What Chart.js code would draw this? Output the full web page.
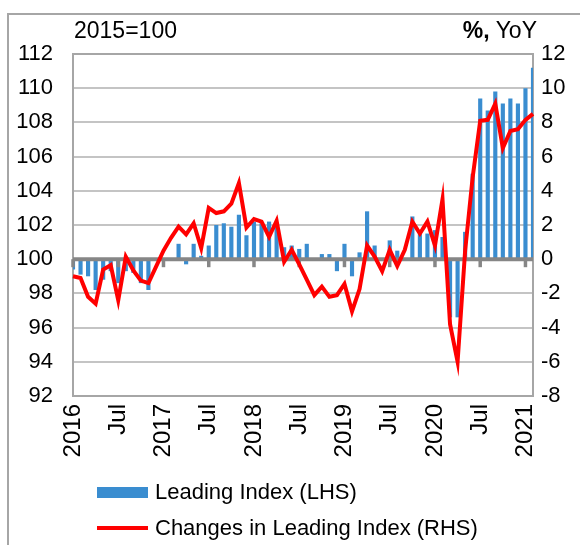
<!DOCTYPE html>
<html>
<head>
<meta charset="utf-8">
<script src="https://cdn.jsdelivr.net/npm/chart.js@4.4.1/dist/chart.umd.min.js"></script>
<style>
  html, body { margin: 0; padding: 0; background: #fff; }
  body { width: 580px; height: 545px; position: relative; overflow: hidden;
         font-family: "Liberation Sans", Arial, sans-serif; color: #000; }
  #frame { position: absolute; left: 7px; top: 13px; width: 620px; height: 600px;
           border: 2px solid #a6a6a6; box-sizing: border-box; }
  #chart { position: absolute; left: 0; top: 0; }
  .note { position: absolute; top: 17px; font-size: 23px; line-height: 26px; white-space: nowrap; }
  .legend { position: absolute; left: 97px; font-size: 22px; line-height: 24px; white-space: nowrap; }
  .legend .key { position: absolute; left: 0; width: 51px; }
  .legend span.txt { position: absolute; left: 58px; top: 0; }
</style>
</head>
<body>
<div id="frame"></div>
<canvas id="chart" width="580" height="545"></canvas>
<div class="note" style="left:74px;">2015=100</div>
<div class="note" style="right:43px;"><b>%,</b> YoY</div>
<div class="legend" style="top:480px;">
  <div class="key" style="top:7px;height:11px;background:#3a8dd0;"></div>
  <span class="txt">Leading Index (LHS)</span>
</div>
<div class="legend" style="top:516px;">
  <div class="key" style="top:10px;height:4px;background:#ff0000;"></div>
  <span class="txt">Changes in Leading Index (RHS)</span>
</div>
<script>
// Monthly categories, Jan 2016 to Feb 2021
const months = [];
for (let y = 2016; y <= 2021; y++) {
    for (let m = 1; m <= 12; m++) {
        if (y === 2021 && m > 2) break;
        months.push(y + "-" + String(m).padStart(2, "0"));
    }
}

// Leading Index, 2015=100 (left axis)
const leadingIndex = [
    99.4, 99.1, 99.0, 98.2, 98.8, 99.3, 98.6, 99.3, 99.2, 98.6, 98.2, 100.0,
    100.0, 100.0, 100.9, 99.7, 100.9, 100.2, 100.8, 102.0, 102.1, 101.9, 102.6, 101.4,
    102.2, 102.1, 102.2, 101.9, 100.7, 100.8, 100.6, 100.9, 100.0, 100.3, 100.3, 99.3,
    100.9, 99.0, 100.4, 102.8, 100.8, 100.0, 101.1, 100.5, 100.0, 102.5, 101.5, 101.5,
    101.7, 101.3, 96.6, 96.6, 101.6, 105.0, 109.4, 108.7, 109.8, 109.1, 109.4, 109.1,
    110.0, 111.2,
];

// Year-on-year change of the index, % (right axis)
const yoyChange = [
    -1.0, -1.1, -2.2, -2.6, -0.6, -0.35, -2.4, 0.15, -0.65, -1.25, -1.4, -0.45,
    0.5, 1.25, 1.9, 1.45, 2.1, 0.65, 3.0, 2.7, 2.8, 3.25, 4.45, 1.85,
    2.35, 2.2, 1.3, 2.25, -0.15, 0.55, -0.3, -1.2, -2.1, -1.6, -2.2, -2.1,
    -1.45, -3.05, -1.75, 0.8, 0.15, -0.7, 0.55, -0.4, 0.55, 2.2, 1.5, 2.2,
    0.8, 3.5, -3.8, -6.0, 0.5, 4.8, 8.1, 8.15, 9.1, 6.5, 7.5, 7.6,
    8.15, 8.5,
];

// Axis ranges
const leftTicks = { min: 92, max: 112, step: 2 };
const rightTicks = { min: -8, max: 12, step: 2 };
const midYearLabel = "Jul";

const fontFamily = "'Liberation Sans', Arial, sans-serif";
const valueFont = { family: fontFamily, size: 22 };
const dateFont = { family: fontFamily, size: 24 };

// thick axis line at 100 with half-year tick marks, drawn over the bars
const baseLine = {
    id: "baseLine",
    afterDatasetDraw(chart, args) {
        if (args.meta.type !== "bar") return;
        const { ctx, chartArea, scales } = chart;
        const y = scales.y.getPixelForValue(100);
        ctx.save();
        ctx.strokeStyle = "#868686";
        ctx.lineWidth = 4;
        ctx.beginPath();
        ctx.moveTo(chartArea.left, y);
        ctx.lineTo(chartArea.right, y);
        ctx.stroke();
        ctx.lineWidth = 3.5;
        months.forEach((m, i) => {
            if (i % 6 !== 0) return;
            const x = scales.x.getPixelForValue(i);
            ctx.beginPath();
            ctx.moveTo(x, y);
            ctx.lineTo(x, y + 8);
            ctx.stroke();
        });
        ctx.restore();
    },
};

new Chart(document.getElementById("chart"), {
    data: {
        labels: months,
        datasets: [
            {
                type: "line",
                label: "Changes in Leading Index (RHS)",
                data: yoyChange,
                yAxisID: "y1",
                borderColor: "#ff0000",
                borderWidth: 4,
                pointRadius: 0,
                tension: 0,
                order: 0,
            },
            {
                type: "bar",
                label: "Leading Index (LHS)",
                data: leadingIndex,
                yAxisID: "y",
                base: 100,
                backgroundColor: "#3a8dd0",
                categoryPercentage: 1,
                barPercentage: 0.55,
                order: 1,
            },
        ],
    },
    options: {
        responsive: false,
        animation: false,
        layout: { padding: { top: 54, bottom: 74, left: 0, right: 0 } },
        plugins: { legend: { display: false }, tooltip: { enabled: false } },
        scales: {
            x: {
                offset: false,
                grid: { display: false, drawTicks: false },
                border: { display: true, color: "#a6a6a6", width: 2 },
                ticks: {
                    autoSkip: false,
                    maxRotation: 90,
                    minRotation: 90,
                    padding: 8,
                    color: "#000",
                    font: dateFont,
                    callback: (v, i) => {
                        if (i % 12 === 0) return months[i].slice(0, 4);
                        if (i % 6 === 0) return midYearLabel;
                        return null;
                    },
                },
                afterFit: (s) => { s.height = 75; },
            },
            y: {
                position: "left",
                min: leftTicks.min,
                max: leftTicks.max,
                ticks: { stepSize: leftTicks.step, padding: 20, color: "#000", font: valueFont },
                grid: {
                    drawTicks: false,
                    lineWidth: 2,
                    color: (c) => (c.tick && c.tick.value === leftTicks.max ? "#a6a6a6" : "#c4c4c4"),
                },
                border: { color: "#a6a6a6", width: 2 },
                afterFit: (s) => { s.width = 73; },
            },
            y1: {
                position: "right",
                min: rightTicks.min,
                max: rightTicks.max,
                ticks: { stepSize: rightTicks.step, padding: 8, color: "#000", font: valueFont },
                grid: { display: false, drawTicks: false },
                border: { color: "#a6a6a6", width: 2 },
                afterFit: (s) => { s.width = 47; },
            },
        },
    },
    plugins: [baseLine],
});
</script>
</body>
</html>
